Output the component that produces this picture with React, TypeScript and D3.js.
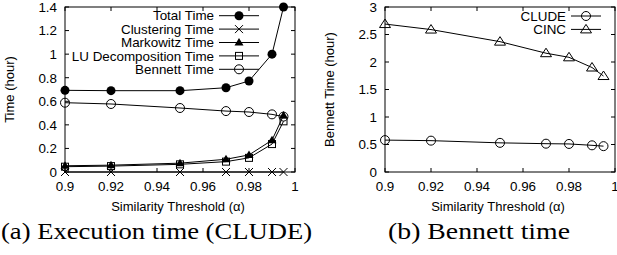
import React from 'react';
import * as d3 from 'd3';

// similarity thresholds shared by both panels
const thresholds = [0.9, 0.92, 0.95, 0.97, 0.98, 0.99, 0.995];

// (a) execution time of CLUDE, hours
const totalTime = [0.693, 0.69, 0.69, 0.715, 0.772, 1.0, 1.4];
const clusteringTime = [0, 0, 0, 0, 0, 0, 0];
const markowitzTime = [0.053, 0.058, 0.075, 0.108, 0.145, 0.27, 0.48];
const luTime = [0.045, 0.05, 0.065, 0.088, 0.12, 0.237, 0.43];
const bennettTime = [0.588, 0.577, 0.543, 0.517, 0.509, 0.489, 0.47];

// (b) Bennett time, hours
const cludeBennett = [0.58, 0.57, 0.53, 0.515, 0.51, 0.485, 0.47];
const cincBennett = [2.69, 2.59, 2.37, 2.16, 2.085, 1.9, 1.745];

const xTicks = [0.9, 0.92, 0.94, 0.96, 0.98, 1];
const yTicksA = [0, 0.2, 0.4, 0.6, 0.8, 1, 1.2, 1.4];
const yTicksB = [0, 0.5, 1, 1.5, 2, 2.5, 3];

type MarkerKind = 'dot' | 'cross' | 'tri' | 'square' | 'circle' | 'otri';

const Marker = ({ kind, x, y }: { kind: MarkerKind; x: number; y: number }) => {
  if (kind === 'dot') return <circle cx={x} cy={y} r={4.5} fill="#000" />;
  if (kind === 'circle')
    return <circle cx={x} cy={y} r={4.5} fill="none" stroke="#000" strokeWidth={1} />;
  if (kind === 'square')
    return <rect x={x - 3.5} y={y - 3.5} width={7} height={7} fill="none" stroke="#000" strokeWidth={1} />;
  if (kind === 'tri')
    return <path d={`M${x},${y - 4.5}L${x + 4.5},${y + 3}L${x - 4.5},${y + 3}Z`} fill="#000" />;
  if (kind === 'otri')
    return (
      <path
        d={`M${x},${y - 5}L${x + 5.5},${y + 3.5}L${x - 5.5},${y + 3.5}Z`}
        fill="none"
        stroke="#000"
        strokeWidth={1}
      />
    );
  return (
    <path
      d={`M${x - 4},${y - 4}L${x + 4},${y + 4}M${x - 4},${y + 4}L${x + 4},${y - 4}`}
      stroke="#000"
      strokeWidth={1}
      fill="none"
    />
  );
};

type Series = { name: string; values: number[]; kind: MarkerKind };

const font = '"Liberation Sans", Arial, sans-serif';

const Panel = ({
  left, right, top, bottom, yMax, yTicks, yLabel, series, legendX, legendY, sample, yFmt,
}: {
  left: number; right: number; top: number; bottom: number; yMax: number;
  yTicks: number[]; yLabel: string; series: Series[]; legendX: number; legendY: number;
  sample: number; yFmt: (v: number) => string;
}) => {
  const x = d3.scaleLinear().domain([0.9, 1]).range([left, right]);
  const y = d3.scaleLinear().domain([0, yMax]).range([bottom, top]);
  const line = d3
    .line<number>()
    .x((_, i) => x(thresholds[i]))
    .y(d => y(d));
  const tick = 4;

  return (
    <g fontFamily={font} fontSize={13.4}>
      {/* ticks, mirrored on all sides */}
      {yTicks.map(t => (
        <g key={'y' + t}>
          <line x1={left} x2={left + tick} y1={y(t)} y2={y(t)} stroke="#000" />
          <line x1={right} x2={right - tick} y1={y(t)} y2={y(t)} stroke="#000" />
          <text x={left - 8} y={y(t) + 4.8} textAnchor="end">{yFmt(t)}</text>
        </g>
      ))}
      {xTicks.map(t => (
        <g key={'x' + t}>
          <line x1={x(t)} x2={x(t)} y1={bottom} y2={bottom - tick} stroke="#000" />
          <line x1={x(t)} x2={x(t)} y1={top} y2={top + tick} stroke="#000" />
          <text x={x(t)} y={bottom + 19} textAnchor="middle">{String(t)}</text>
        </g>
      ))}
      <rect x={left} y={top} width={right - left} height={bottom - top} fill="none" stroke="#000" />

      <text
        transform={`translate(${left - 51},${(top + bottom) / 2}) rotate(-90)`}
        textAnchor="middle"
        fontSize={13}
      >
        {yLabel}
      </text>
      <text x={(left + right) / 2 - 2} y={bottom + 39} textAnchor="middle" fontSize={13}>
        Similarity Threshold (α)
      </text>

      {series.map(s => (
        <g key={s.name}>
          <path d={line(s.values) || ''} fill="none" stroke="#000" strokeWidth={1} />
          {s.values.map((v, i) => (
            <Marker key={i} kind={s.kind} x={x(thresholds[i])} y={y(v)} />
          ))}
        </g>
      ))}

      {/* legend */}
      {series.map((s, i) => {
        const ly = legendY + i * 13.4;
        return (
          <g key={'lg' + s.name}>
            <text x={legendX} y={ly + 4.7} textAnchor="end">{s.name}</text>
            <line x1={legendX + 5} x2={legendX + 5 + sample} y1={ly} y2={ly} stroke="#000" />
            <Marker kind={s.kind} x={legendX + 5 + sample / 2} y={ly} />
          </g>
        );
      })}
    </g>
  );
};

export default function App() {
  return (
    <svg
      width={617}
      height={255}
      style={{ position: 'absolute', left: 0, top: 0, background: '#fff' }}
    >
      <Panel
        left={65} right={295} top={7} bottom={172} yMax={1.4}
        yTicks={yTicksA} yLabel="Time (hour)" legendX={214} legendY={15.7} sample={40}
        yFmt={v => String(+v.toFixed(1))}
        series={[
          { name: 'Total Time', values: totalTime, kind: 'dot' },
          { name: 'Clustering Time', values: clusteringTime, kind: 'cross' },
          { name: 'Markowitz Time', values: markowitzTime, kind: 'tri' },
          { name: 'LU Decomposition Time', values: luTime, kind: 'square' },
          { name: 'Bennett Time', values: bennettTime, kind: 'circle' },
        ]}
      />
      <Panel
        left={385} right={615} top={7} bottom={172} yMax={3}
        yTicks={yTicksB} yLabel="Bennett Time (hour)" legendX={566} legendY={16} sample={30}
        yFmt={v => String(v)}
        series={[
          { name: 'CLUDE', values: cludeBennett, kind: 'circle' },
          { name: 'CINC', values: cincBennett, kind: 'otri' },
        ]}
      />
      <g fontFamily='"Liberation Serif", "DejaVu Serif", serif' fontSize={23}>
        <text x={1} y={238.5} textLength={311} lengthAdjust="spacingAndGlyphs">(a) Execution time (CLUDE)</text>
        <text x={388} y={238.5} textLength={182} lengthAdjust="spacingAndGlyphs">(b) Bennett time</text>
      </g>
    </svg>
  );
}
